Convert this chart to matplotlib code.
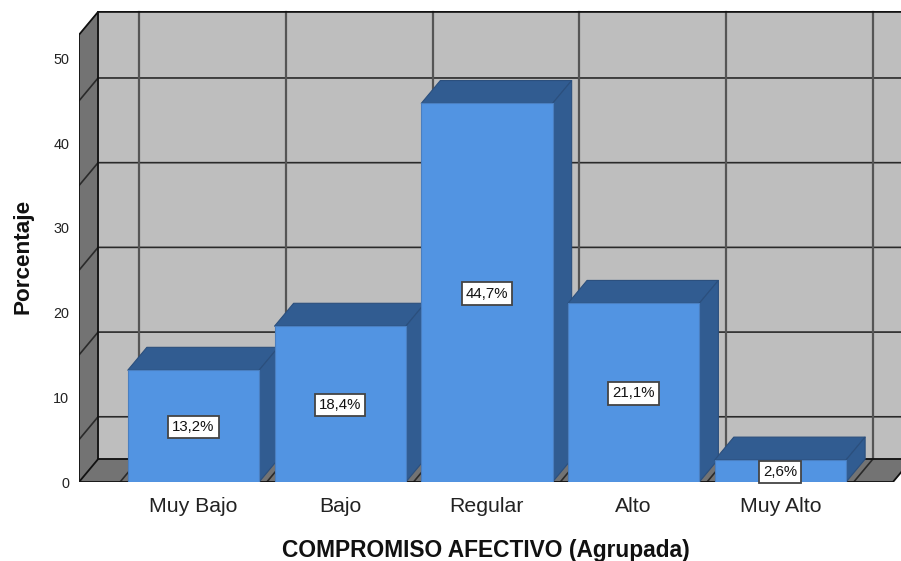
import numpy as np
import matplotlib
matplotlib.use('Agg')
import matplotlib.pyplot as plt
from matplotlib.patches import Polygon

plt.rcParams['font.family'] = ['Liberation Sans', 'DejaVu Sans']

categorias = ['Muy Bajo', 'Bajo', 'Regular', 'Alto', 'Muy Alto']
porcentajes = [13.2, 18.4, 44.7, 21.1, 2.6]
etiquetas = ['13,2%', '18,4%', '44,7%', '21,1%', '2,6%']
yticks = [0, 10, 20, 30, 40, 50]
grid_y = [5, 15, 25, 35, 45]
xlabel = 'COMPROMISO AFECTIVO (Agrupada)'
ylabel = 'Porcentaje'

# 3D look: how far the back wall is shifted, in data units
dx, dy = 0.13, 2.7
x_left, x_right = -0.78, 4.767
y_top = 52.8
bar_width = 0.895

wall_color = '#bebebe'
side_color = '#737373'
bar_front = '#5294e2'
bar_dark = '#315c91'

W, H = 901, 561
fig = plt.figure(figsize=(W / 100, H / 100), dpi=100, facecolor='white')
ax = fig.add_axes([79 / W, (H - 482) / H, (W - 79) / W, 482 / H])
ax.set_xlim(x_left, 4.822)
ax.set_ylim(0, 482 / 8.47)


def poly(pts, color, edge=None, lw=0.8, z=1):
    ax.add_patch(Polygon(pts, closed=True, facecolor=color, edgecolor=edge or color,
                         linewidth=lw, zorder=z, joinstyle='round'))


# back wall, floor and side wall
poly([(x_left + dx, dy), (x_right + dx, dy), (x_right + dx, y_top + dy), (x_left + dx, y_top + dy)], wall_color)
poly([(x_left, 0), (x_right, 0), (x_right + dx, dy), (x_left + dx, dy)], side_color)
poly([(x_left, 0), (x_left + dx, dy), (x_left + dx, y_top + dy), (x_left, y_top)], side_color)

# grid lines
grid_kw = dict(color='#2a2a2a', lw=1.2, zorder=2, solid_capstyle='round')
for g in grid_y:
    ax.plot([x_left, x_left + dx, x_right + dx], [g, g + dy, g + dy], **grid_kw)
for b in np.arange(len(categorias) + 1) - 0.5:
    ax.plot([b, b + dx], [0, dy], **grid_kw)
    ax.plot([b + dx, b + dx], [dy, y_top + dy], color='#555555', lw=1.6, zorder=2)

# wall outlines
outline = dict(color='#111111', lw=1.3, zorder=2.5)
ax.plot([x_left, x_left, x_left + dx, x_right + dx], [0, y_top, y_top + dy, y_top + dy], **outline)
ax.plot([x_left + dx, x_left + dx, x_right + dx], [y_top + dy, dy, dy], **outline)
ax.plot([x_left, x_left + dx], [0, dy], **outline)
ax.plot([x_left, x_right, x_right + dx], [0, 0, dy], **outline)

# bars, left to right so each one covers the side of the previous one
for i, v in enumerate(porcentajes):
    x0, x1 = i - bar_width / 2, i + bar_width / 2
    z = 3 + i
    poly([(x0, v), (x1, v), (x1 + dx, v + dy), (x0 + dx, v + dy)], bar_dark, '#2b4f7d', z=z)
    poly([(x1, 0), (x1 + dx, dy), (x1 + dx, v + dy), (x1, v)], bar_dark, '#2b4f7d', z=z)
    poly([(x0, 0), (x1, 0), (x1, v), (x0, v)], bar_front, '#4a7fc0', z=z)

for i, v in enumerate(porcentajes):
    ax.text(i, v / 2 - 0.1, etiquetas[i], ha='center', va='center', fontsize=10.8, color='#111111', zorder=20,
            bbox=dict(boxstyle='square,pad=0.27', facecolor='white', edgecolor='#444444', linewidth=1.3))

ax.set_xticks(range(len(categorias)))
ax.set_xticklabels(categorias, fontsize=15.3, color='#222222')
ax.set_yticks(yticks)
ax.set_yticklabels(yticks, fontsize=10.4, color='#222222')
ax.tick_params(axis='both', length=0)
ax.tick_params(axis='x', pad=11)
ax.tick_params(axis='y', pad=7)
for s in ax.spines.values():
    s.set_visible(False)

ax.set_xlabel(xlabel, fontsize=16.4, fontweight='bold', color='#111111')
ax.xaxis.set_label_coords((486 - 79) / (W - 79), -69 / 482)
ax.xaxis.label.set_va('center')
ax.set_ylabel(ylabel, fontsize=16.2, fontweight='bold', color='#111111')
ax.yaxis.set_label_coords((23 - 79) / (W - 79), (482 - 256) / 482)
ax.yaxis.label.set_va('center')

plt.savefig('out.png', dpi=100)
